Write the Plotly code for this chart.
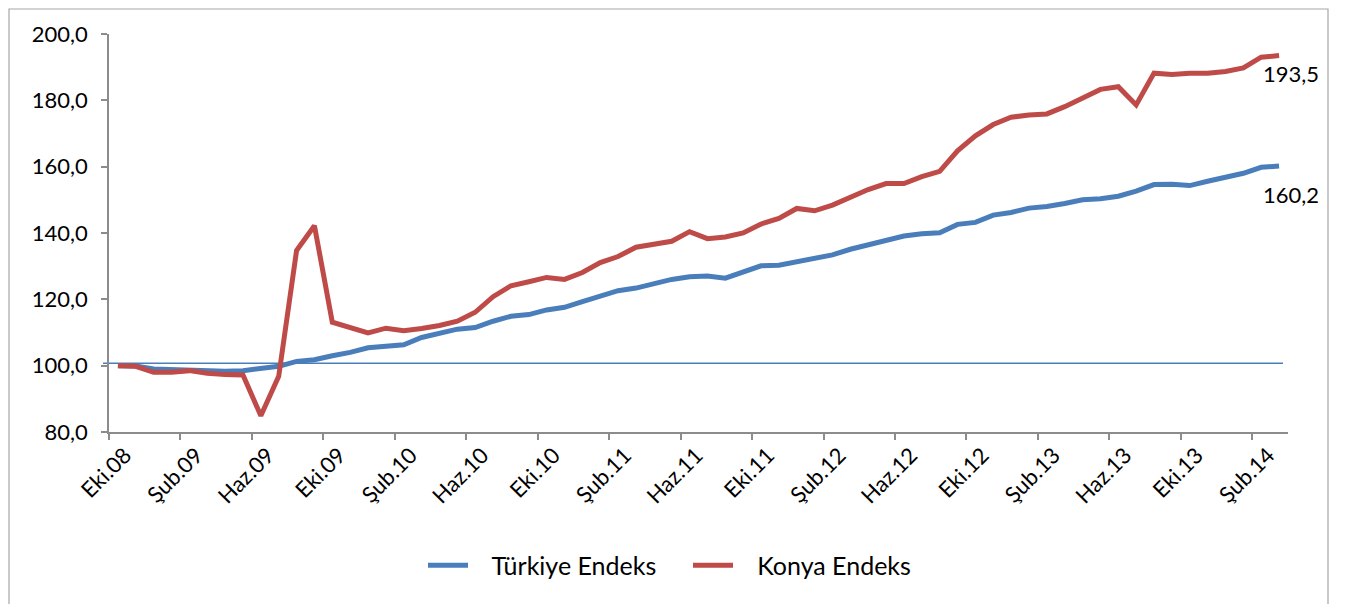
import plotly.graph_objects as go

months = ["Oca", "Şub", "Mar", "Nis", "May", "Haz", "Tem", "Ağu", "Eyl", "Eki", "Kas", "Ara"]
# Monthly categories: Eki.08 .. Mar.14
categories = []
m, yr = 9, 8
for _ in range(66):
    categories.append(f"{months[m]}.{yr:02d}")
    m += 1
    if m == 12:
        m, yr = 0, yr + 1

turkiye = [100.0, 99.9, 99.0, 98.8, 98.9, 98.4, 98.3, 98.5, 99.2, 99.8,
           101.3, 101.8, 103.0, 104.0, 105.4, 106.0, 106.3, 108.5, 109.8, 111.0,
           111.5, 113.4, 114.9, 115.4, 116.8, 117.6, 119.3, 120.8, 122.6, 123.4,
           124.8, 126.0, 126.8, 127.0, 126.4, 128.1, 130.1, 130.3, 131.4, 132.6,
           133.4, 135.1, 136.4, 137.8, 139.1, 139.8, 140.1, 142.6, 143.2, 145.4,
           146.2, 147.5, 148.0, 148.9, 150.0, 150.3, 151.1, 152.6, 154.6, 154.7,
           154.3, 155.6, 156.8, 158.0, 159.8, 160.2]
konya = [100.0, 99.8, 98.0, 98.0, 98.5, 97.7, 97.3, 97.2, 84.9, 96.8,
         134.7, 142.2, 113.1, 111.4, 109.9, 111.3, 110.5, 111.2, 112.1, 113.4,
         116.1, 120.8, 124.1, 125.3, 126.6, 126.0, 128.1, 131.1, 132.9, 135.7,
         136.5, 137.5, 140.4, 138.3, 138.8, 140.0, 142.7, 144.4, 147.4, 146.7,
         148.4, 150.7, 153.1, 154.9, 154.9, 157.0, 158.6, 164.8, 169.3, 172.7,
         174.9, 175.6, 175.9, 178.1, 180.6, 183.3, 184.1, 178.6, 188.2, 187.8,
         188.2, 188.2, 188.7, 189.8, 193.0, 193.5]

reference_level = 100.7
label_every = 4

x = list(range(len(categories)))
tick_idx = x[::label_every]
tick_text = [categories[i] for i in tick_idx]

FONT = "Lato"
BLUE = "#4A7EBB"
RED = "#BE4B48"
GRAY = "#8C8C8C"

# layout geometry (figure px)
L, R, T, B = 101, 67, 26, 180
W, H = 1347, 604
PW, PH = W - L - R, H - T - B
PB = H - B

def px_x(p):
    return (p - L) / PW

def px_y(p):
    return (PB - p) / PH

NB = "\u00a0"

fig = go.Figure()
fig.add_trace(go.Scatter(x=x, y=turkiye, mode="lines", name=NB * 3 + "Türkiye Endeks",
                         line=dict(color=BLUE, width=5)))
fig.add_trace(go.Scatter(x=x, y=konya, mode="lines", name=NB * 3 + "Konya Endeks",
                         line=dict(color=RED, width=5)))

fig.add_shape(type="line", xref="paper", yref="y", x0=px_x(95), x1=px_x(1275),
              y0=reference_level, y1=reference_level,
              line=dict(color=BLUE, width=1.5), layer="below")

# chart border
fig.add_shape(type="rect", xref="paper", yref="paper",
              x0=px_x(1), x1=px_x(1320), y0=px_y(620), y1=px_y(1),
              line=dict(color="#A6A6A6", width=1.2))

fig.add_annotation(x=x[-1], y=konya[-1], text=f"{konya[-1]:.1f}".replace(".", ","),
                   showarrow=False, xshift=12, yshift=-18,
                   font=dict(family=FONT, size=22, color="black"))
fig.add_annotation(x=x[-1], y=turkiye[-1], text=f"{turkiye[-1]:.1f}".replace(".", ","),
                   showarrow=False, xshift=12, yshift=-28,
                   font=dict(family=FONT, size=22, color="black"))

fig.update_layout(
    width=W, height=H,
    margin=dict(l=L, r=R, t=T, b=B),
    paper_bgcolor="white", plot_bgcolor="white",
    separators=",.",
    font=dict(family=FONT, size=22, color="black"),
    showlegend=True,
    legend=dict(orientation="h", x=px_x(680), xanchor="center", y=-0.2775, yanchor="top",
                font=dict(family=FONT, size=25), itemwidth=40, traceorder="normal",
                entrywidth=210),
    xaxis=dict(range=[-0.5, len(categories) - 0.5], tickmode="array",
               tickvals=tick_idx, ticktext=tick_text, tickangle=-45,
               ticks="", showgrid=False, zeroline=False,
               showline=True, linecolor=GRAY, linewidth=1.5,
               ticklabelshift=7,
               minor=dict(tickmode="linear", tick0=-0.5, dtick=label_every,
                          ticks="outside", ticklen=6, tickcolor=GRAY, tickwidth=1.5,
                          showgrid=False),
               tickfont=dict(family=FONT, size=22)),
    yaxis=dict(range=[80, 200], dtick=20, tickformat=".1f",
               ticks="outside", ticklen=6, tickcolor=GRAY, tickwidth=1.5,
               showgrid=False, zeroline=False,
               showline=True, linecolor=GRAY, linewidth=1.5,
               ticklabelstandoff=9,
               tickfont=dict(family=FONT, size=22)),
)

fig.write_html("out.html")
